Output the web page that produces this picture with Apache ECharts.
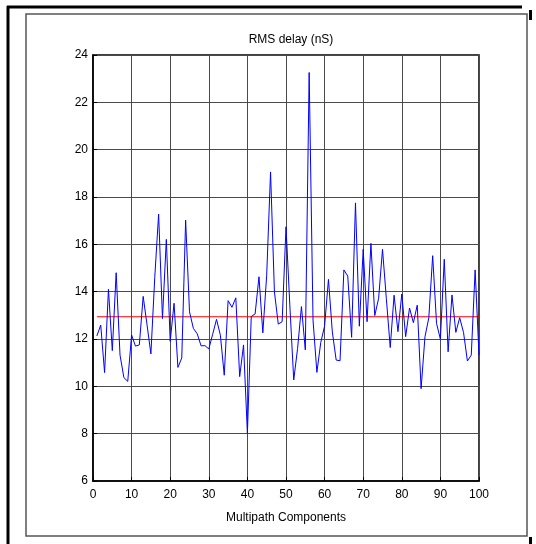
<!DOCTYPE html>
<html><head><meta charset="utf-8">
<script src="https://cdn.jsdelivr.net/npm/echarts@6/dist/echarts.min.js"></script>
<style>html,body{margin:0;padding:0;background:#fff}#c{width:536px;height:544px}</style>
</head><body><div id="c"></div>
<script>
const titleText = 'RMS delay (nS)';
const xAxisName = 'Multipath Components';
const components = [];
for (let i = 1; i <= 100; i++) components.push(i);
const rmsDelay = [
 12.13,12.59,10.58,14.1,11.51,14.8,11.32,10.37,10.21,12.17,
 11.7,11.75,13.8,12.6,11.37,14.6,17.28,12.86,16.21,11.9,
 13.51,10.8,11.2,17.02,13.15,12.45,12.22,11.71,11.72,11.58,
 12.2,12.83,12.16,10.47,13.62,13.34,13.74,10.41,11.75,8.01,
 12.95,13.06,14.63,12.26,14.7,19.06,14.0,12.63,12.73,16.74,
 13.4,10.27,11.6,13.37,11.54,23.26,12.8,10.59,11.85,12.55,
 14.52,12.3,11.11,11.08,14.92,14.66,12.07,17.75,12.54,15.79,
 12.73,16.04,12.99,13.72,15.79,13.7,11.64,13.85,12.31,13.9,
 12.1,13.31,12.69,13.43,9.9,12.09,12.9,15.52,12.66,11.99,
 15.37,11.46,13.86,12.28,12.9,12.27,11.07,11.32,14.92,11.32
];
const meanDelay = 12.94;
const xTicks = [0,10,20,30,40,50,60,70,80,90,100];
const yTicks = [6,8,10,12,14,16,18,20,22,24];

const chart = echarts.init(document.getElementById('c'), null, {renderer:'canvas'});
const font = 'Liberation Sans';
chart.setOption({
  animation:false,
  backgroundColor:'#fff',
  title:{text:titleText, left:286, top:29, textAlign:'center',
    textStyle:{fontFamily:font,fontSize:12,fontWeight:'normal',color:'#000'}},
  grid:{left:93,right:57,top:55,bottom:63,show:true,borderColor:'#000',borderWidth:1.5,backgroundColor:'#fff'},
  xAxis:{type:'value',min:xTicks[0],max:xTicks[xTicks.length-1],interval:10,
    name:xAxisName,nameLocation:'middle',nameGap:31,
    nameTextStyle:{fontFamily:font,fontSize:12,color:'#000'},
    axisLine:{lineStyle:{color:'#000',width:1.5}},
    axisTick:{inside:true,length:4,lineStyle:{color:'#000'}},
    axisLabel:{fontFamily:font,fontSize:12,color:'#000',margin:8},
    splitLine:{show:true,lineStyle:{color:'#4a4a4a',width:1}}},
  yAxis:{type:'value',min:yTicks[0],max:yTicks[yTicks.length-1],interval:2,
    axisLine:{lineStyle:{color:'#000',width:1.5}},
    axisTick:{inside:true,length:4,lineStyle:{color:'#000'}},
    axisLabel:{fontFamily:font,fontSize:12,color:'#000',margin:5},
    splitLine:{show:true,lineStyle:{color:'#4a4a4a',width:1}}},
  series:[
    {type:'line',data:components.map((c,i)=>[c,rmsDelay[i]]),symbol:'none',
      lineStyle:{color:'#0000ff',width:1},z:3},
    {type:'line',data:[[components[0],meanDelay],[components[components.length-1],meanDelay]],symbol:'none',
      lineStyle:{color:'#ff0000',width:1},z:2}
  ],
  graphic:[
    {type:'rect',shape:{x:26,y:14,width:501,height:522},style:{fill:null,stroke:'#555',lineWidth:1.5},z:-1},
    {type:'line',shape:{x1:7,y1:7,x2:522,y2:7},style:{stroke:'#000',lineWidth:3}},
    {type:'line',shape:{x1:8,y1:6,x2:8,y2:544},style:{stroke:'#000',lineWidth:3}},
    {type:'rect',shape:{x:529,y:10,width:3,height:10},style:{fill:'#000'}},
    {type:'rect',shape:{x:529,y:537,width:3,height:7},style:{fill:'#000'}}
  ]
});
</script></body></html>
